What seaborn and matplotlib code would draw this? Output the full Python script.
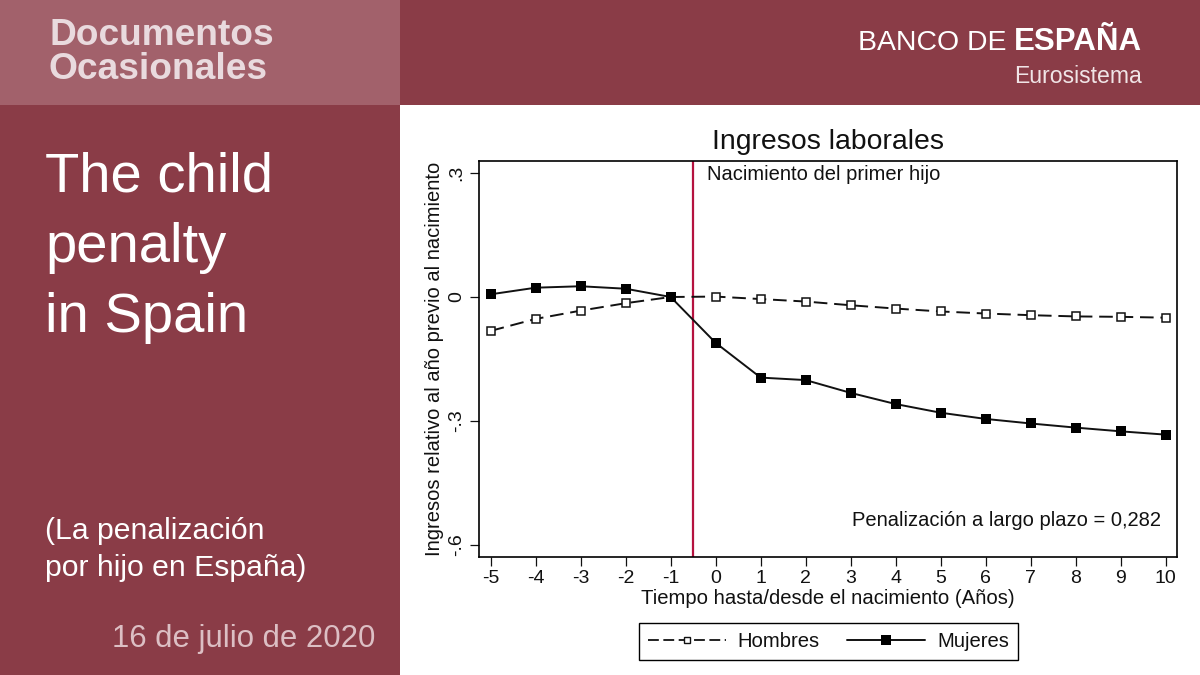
import pandas as pd
import matplotlib.pyplot as plt
import seaborn as sns
from matplotlib.patches import Rectangle

# Values
years = [-5, -4, -3, -2, -1, 0, 1, 2, 3, 4, 5, 6, 7, 8, 9, 10]
hombres = [-0.082, -0.053, -0.033, -0.015, 0.0, 0.001, -0.005, -0.011,
           -0.020, -0.028, -0.035, -0.040, -0.044, -0.047, -0.048, -0.050]
mujeres = [0.0065, 0.0225, 0.026, 0.020, 0.0, -0.111, -0.195, -0.201,
           -0.232, -0.259, -0.280, -0.295, -0.306, -0.316, -0.325, -0.333]
y_ticks = [0.3, 0, -0.3, -0.6]
y_labels = ['.3', '0', '-.3', '-.6']

W, H = 1200, 675
DARK = '#8a3c47'
LIGHT = '#a2616b'
INK = '#111111'
SANS = 'Liberation Sans'

sns.set_theme(style='white')
plt.rcParams['font.family'] = [SANS, 'DejaVu Sans']
plt.rcParams['axes.unicode_minus'] = False

df = pd.DataFrame({'year': years * 2,
                   'value': hombres + mujeres,
                   'sexo': ['Hombres'] * len(years) + ['Mujeres'] * len(years)})

fig = plt.figure(figsize=(12, 6.75), dpi=100, facecolor='white')


def box(x0, y0, x1, y1, color):
    fig.add_artist(Rectangle((x0 / W, 1 - y1 / H), (x1 - x0) / W, (y1 - y0) / H,
                             transform=fig.transFigure, color=color, lw=0))


def label(x, y, s, size, color='white', **kw):
    kw.setdefault('va', 'baseline')
    fig.text(x / W, 1 - y / H, s, fontsize=size, color=color, **kw)


# Slide background
box(0, 0, 1200, 105, DARK)
box(0, 105, 400, 675, DARK)
box(0, 0, 400, 105, LIGHT)

label(49, 45, 'Documentos', 26.7, '#e9dade', fontweight='bold')
label(49, 79, 'Ocasionales', 26.7, '#e9dade', fontweight='bold')
label(45, 191, 'The child', 40.5)
label(45, 262, 'penalty', 40.5)
label(45, 332, 'in Spain', 40.5)
label(45, 539, '(La penalización', 21.7)
label(45, 576, 'por hijo en España)', 21.7)
label(112, 647, '16 de julio de 2020', 22.4, '#dcbfc4')

label(858, 50, 'BANCO DE', 20.4)
label(1014, 50, 'ESPAÑA', 22.5, fontweight='bold')
label(1014, 83, 'Eurosistema', 16.6, '#f0e4e6')

# Chart
ax = fig.add_axes([478.5 / W, 1 - 557 / H, (1177 - 478.5) / W, (557 - 161) / H])
sns.lineplot(data=df, x='year', y='value', hue='sexo', style='sexo',
             palette={'Hombres': INK, 'Mujeres': INK},
             dashes={'Hombres': (7, 3.5), 'Mujeres': ''},
             markers={'Hombres': 's', 'Mujeres': 's'},
             linewidth=1.4, errorbar=None, legend=False, ax=ax)

# open markers for the men, filled and larger for the women
men, women = ax.get_lines()[:2]
men.set(markersize=5.5, markerfacecolor='white', markeredgecolor=INK, markeredgewidth=1.1)
women.set(markersize=7, markerfacecolor='black', markeredgecolor='black', markeredgewidth=0)

ax.axvline(-0.5, color='#b5123f', lw=1.6, zorder=1)
ax.set_xlim(-5.27, 10.25)
ax.set_ylim(-0.629, 0.329)
ax.set_xticks(years)
ax.set_yticks(y_ticks)
ax.set_yticklabels(y_labels, rotation=90, va='center')
ax.tick_params(axis='both', which='major', length=6.5, width=0.9, color=INK,
               labelsize=14, labelcolor=INK, pad=3, bottom=True, left=True)
for spine in ax.spines.values():
    spine.set_visible(True)
    spine.set_color('black')
    spine.set_linewidth(1.2)
ax.set_xlabel('Tiempo hasta/desde el nacimiento (Años)', fontsize=14.6, color=INK, labelpad=1)
ax.set_ylabel('Ingresos relativo al año previo al nacimiento', fontsize=14.5, color=INK, labelpad=3)
ax.set_title('Ingresos laborales', fontsize=20.4, color=INK, pad=8.5)

ax.text(-0.2, 0.296, 'Nacimiento del primer hijo', fontsize=14.5, color=INK, va='center')
ax.text(9.9, -0.54, 'Penalización a largo plazo = 0,282', fontsize=14.5, color=INK, ha='right', va='center')

# Legend box under the chart
handles = [plt.Line2D([], [], color=INK, lw=1.3, dashes=(6, 2.5), marker='s', markersize=5,
                      markerfacecolor='white', markeredgecolor=INK),
           plt.Line2D([], [], color=INK, lw=1.4, marker='s', markersize=7,
                      markerfacecolor='black', markeredgewidth=0)]
leg = fig.legend(handles, ['Hombres', 'Mujeres'], ncol=2, loc='center',
                 bbox_to_anchor=(828.5 / W, 1 - 641.5 / H), frameon=True, fancybox=False,
                 edgecolor='black', framealpha=1, fontsize=14.6, handlelength=3.84,
                 columnspacing=1.35, handletextpad=0.6, borderpad=0.42, borderaxespad=0,
                 labelcolor=INK)
leg.get_frame().set_linewidth(1.0)

fig.savefig('out.png', dpi=100)
